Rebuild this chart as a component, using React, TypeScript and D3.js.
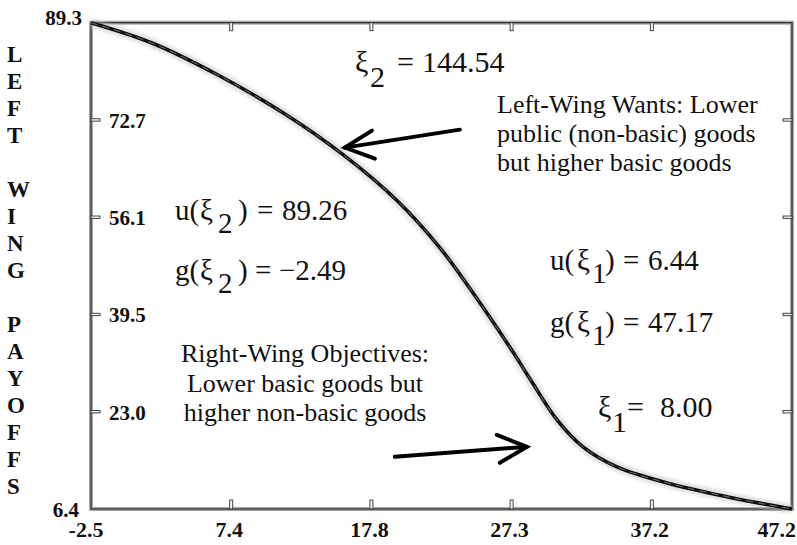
import React from "react";
import * as d3 from "d3";

// Payoff curve samples (x: policy position, y: left-wing payoff)
const curveX = [-2.5, 1.82, 6.5, 11.25, 15.37, 19.19, 22.24, 25.08, 27.42, 28.63, 30.54, 32.38, 34.79, 38.34, 43.02, 45.07, 47.2];
const curveY = [89.3, 85.84, 80.38, 73.74, 66.81, 59.0, 50.93, 41.52, 33.16, 28.56, 21.59, 16.99, 13.58, 10.85, 8.29, 7.32, 6.4];

// Axis ticks: evenly spaced positions and their printed labels
const xTicks = [-2.5, 7.44, 17.38, 27.32, 37.26, 47.2];
const xTickLabels = ["-2.5", "7.4", "17.8", "27.3", "37.2", "47.2"];
const yTicks = [6.4, 22.98, 39.56, 56.14, 72.72, 89.3];
const yTickLabels = ["6.4", "23.0", "39.5", "56.1", "72.7", "89.3"];

const yTitleLetters = ["L", "E", "F", "T", "", "W", "I", "N", "G", "", "P", "A", "Y", "O", "F", "F", "S"];

const leftWingNote = ["Left-Wing Wants: Lower", "public (non-basic) goods", "but higher basic goods"];
const rightWingNote = ["Right-Wing Objectives:", "Lower basic goods but", "higher non-basic goods"];

const W = 797;
const H = 545;
const X0 = 91;
const X1 = 792;
const Y0 = 22.7;
const Y1 = 509;

const serif = "'Liberation Serif', 'Times New Roman', serif";

type Piece = { t: string; dx: number; sub?: boolean };

function MathLabel({ x, y, size, subDrop, pieces }: { x: number; y: number; size: number; subDrop: number; pieces: Piece[] }) {
  return (
    <text fontFamily={serif} fontSize={size} fill="#111">
      {pieces.map((p, i) => (
        <tspan key={i} x={x + p.dx} y={p.sub ? y + subDrop : y}>
          {p.t}
        </tspan>
      ))}
    </text>
  );
}

export default function App() {
  const sx = d3.scaleLinear().domain([-2.5, 47.2]).range([X0, X1]);
  const sy = d3.scaleLinear().domain([6.4, 89.3]).range([Y1, Y0]);

  const pts: [number, number][] = curveX.map((v, i) => [v, curveY[i]]);
  const line = d3
    .line<[number, number]>()
    .x((d) => sx(d[0]))
    .y((d) => sy(d[1]))
    .curve(d3.curveCatmullRom.alpha(0.5));
  const pathD = line(pts) || "";

  // arrow tips in data space, with chevron/shaft offsets in px
  const arrowA = { tip: [15.5, 68.0], tail: [115, -18], h1: [27, -17], h2: [30, 11] };
  const arrowB = { tip: [28.4, 17.0], tail: [-132, 10], h1: [-30, -12], h2: [-27, 16] };

  const arrow = (a: typeof arrowA, key: string) => {
    const tx = sx(a.tip[0]);
    const ty = sy(a.tip[1]);
    return (
      <g key={key} stroke="#000" strokeWidth={4} strokeLinecap="round" fill="none">
        <line x1={tx + a.tail[0]} y1={ty + a.tail[1]} x2={tx} y2={ty} />
        <polyline points={`${tx + a.h1[0]},${ty + a.h1[1]} ${tx},${ty} ${tx + a.h2[0]},${ty + a.h2[1]}`} strokeLinejoin="miter" />
      </g>
    );
  };

  return (
    <svg width={W} height={H} style={{ position: "absolute", left: 0, top: 0, background: "#fff" }}>
      <defs>
        <filter id="soft" x="-10%" y="-10%" width="120%" height="120%">
          <feGaussianBlur stdDeviation="1.6" />
        </filter>
      </defs>
      <rect x={0} y={0} width={W} height={H} fill="#fff" />

      {/* frame */}
      <rect x={X0} y={Y0} width={X1 - X0} height={Y1 - Y0} fill="none" stroke="#a8a8a8" strokeWidth={4} />
      <rect x={X0} y={Y0} width={X1 - X0} height={Y1 - Y0} fill="none" stroke="#2b2b2b" strokeWidth={1.2} />

      {/* x ticks (bottom and top) */}
      {xTicks.slice(1, -1).map((v, i) => (
        <g key={"xt" + i} fill="#f4f4f4" stroke="#333" strokeWidth={0.9}>
          <rect x={sx(v) - 1.5} y={Y1 - 9} width={3} height={9} />
          <rect x={sx(v) - 1.5} y={Y0} width={3} height={8} />
        </g>
      ))}
      {/* y ticks (left and right) */}
      {yTicks.slice(1, -1).map((v, i) => (
        <g key={"yt" + i} fill="#f4f4f4" stroke="#333" strokeWidth={0.9}>
          <rect x={X0} y={sy(v) - 1.2} width={9} height={2.4} />
          <rect x={X1 - 9} y={sy(v) - 1.2} width={9} height={2.4} />
        </g>
      ))}

      {/* x tick labels */}
      {xTicks.map((v, i) => {
        const last = i === xTicks.length - 1;
        const first = i === 0;
        return (
          <text
            key={"xl" + i}
            x={first ? sx(v) - 5 : last ? W - 1 : sx(v) - 2}
            y={537}
            textAnchor={last ? "end" : "middle"}
            fontFamily={serif}
            fontWeight="bold"
            fontSize={22}
            fill="#111"
          >
            {xTickLabels[i]}
          </text>
        );
      })}

      {/* y tick labels */}
      {yTicks.map((v, i) => {
        if (i === 0)
          return (
            <text key="yl0" x={79} y={517} textAnchor="end" fontFamily={serif} fontWeight="bold" fontSize={21} fill="#111">
              {yTickLabels[i]}
            </text>
          );
        if (i === yTicks.length - 1)
          return (
            <text key="ylN" x={82} y={25} textAnchor="end" fontFamily={serif} fontWeight="bold" fontSize={21} fill="#111">
              {yTickLabels[i]}
            </text>
          );
        return (
          <text key={"yl" + i} x={109} y={sy(v) + 8} fontFamily={serif} fontWeight="bold" fontSize={21} fill="#111">
            {yTickLabels[i]}
          </text>
        );
      })}

      {/* vertical axis title */}
      {yTitleLetters.map((c, i) =>
        c ? (
          <text key={"yt" + i} x={7} y={62 + i * 27} fontFamily={serif} fontWeight="bold" fontSize={23} fill="#111">
            {c}
          </text>
        ) : null
      )}

      {/* payoff curve */}
      <path d={pathD} fill="none" stroke="#bdbdbd" strokeWidth={10} opacity={0.45} filter="url(#soft)" />
      <path d={pathD} fill="none" stroke="#111" strokeWidth={3.6} strokeLinejoin="round" />
      <path d={pathD} fill="none" stroke="#8a8a8a" strokeWidth={0.8} strokeDasharray="7 5" />

      {/* arrows */}
      {arrow(arrowA, "a")}
      {arrow(arrowB, "b")}

      {/* notes */}
      <text fontFamily={serif} fontSize={26} fill="#111">
        {leftWingNote.map((s, i) => (
          <tspan key={i} x={497} y={113 + i * 29}>
            {s}
          </tspan>
        ))}
      </text>
      <text fontFamily={serif} fontSize={26} fill="#111" textAnchor="middle">
        {rightWingNote.map((s, i) => (
          <tspan key={i} x={305} y={362 + i * 29.5}>
            {s}
          </tspan>
        ))}
      </text>

      {/* equilibrium values */}
      <MathLabel x={355} y={72} size={30} subDrop={15} pieces={[{ t: "ξ", dx: 0 }, { t: "2", dx: 15, sub: true }, { t: "=", dx: 42 }, { t: "144.54", dx: 67 }]} />
      <MathLabel
        x={175}
        y={220}
        size={29}
        subDrop={13}
        pieces={[{ t: "u(", dx: 0 }, { t: "ξ", dx: 25 }, { t: "2", dx: 43, sub: true }, { t: ")", dx: 63 }, { t: "=", dx: 82 }, { t: "89.26", dx: 107 }]}
      />
      <MathLabel
        x={175}
        y={280}
        size={29}
        subDrop={13}
        pieces={[{ t: "g(", dx: 0 }, { t: "ξ", dx: 25 }, { t: "2", dx: 43, sub: true }, { t: ")", dx: 63 }, { t: "=", dx: 80 }, { t: "−2.49", dx: 104 }]}
      />
      <MathLabel
        x={550}
        y={270}
        size={29}
        subDrop={13}
        pieces={[{ t: "u(", dx: 0 }, { t: "ξ", dx: 27 }, { t: "1", dx: 42, sub: true }, { t: ")", dx: 55 }, { t: "=", dx: 73 }, { t: "6.44", dx: 98 }]}
      />
      <MathLabel
        x={550}
        y={332}
        size={29}
        subDrop={13}
        pieces={[{ t: "g(", dx: 0 }, { t: "ξ", dx: 27 }, { t: "1", dx: 42, sub: true }, { t: ")", dx: 55 }, { t: "=", dx: 73 }, { t: "47.17", dx: 98 }]}
      />
      <MathLabel x={598} y={417} size={30} subDrop={15} pieces={[{ t: "ξ", dx: 0 }, { t: "1", dx: 14, sub: true }, { t: "=", dx: 29 }, { t: "8.00", dx: 62 }]} />
    </svg>
  );
}
